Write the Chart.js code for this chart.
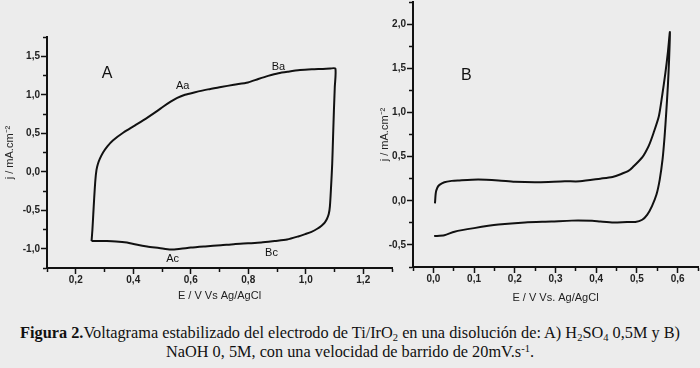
<!DOCTYPE html>
<html>
<head>
<meta charset="utf-8">
<script src="https://cdn.jsdelivr.net/npm/chart.js@4.4.1/dist/chart.umd.min.js"></script>
<style>
  html, body { margin: 0; padding: 0; background: #ececec; }
  #wrap { position: relative; width: 700px; height: 368px; background: #ececec; overflow: hidden; }
  #chartA { position: absolute; left: 0; top: 0; }
  #chartB { position: absolute; left: 372px; top: 0; }
  #caption {
    position: absolute; left: 0; top: 323px; width: 700px;
    text-align: center; color: #111;
    font-family: "Liberation Serif", "Times New Roman", serif;
    font-size: 16.3px; line-height: 19px;
  }
  #caption sub, #caption sup { font-size: 10.5px; line-height: 0; }
  #caption sub { vertical-align: -3px; }
  #caption sup { vertical-align: 5px; }
</style>
</head>
<body>
<div id="wrap">
  <canvas id="chartA" width="400" height="305"></canvas>
  <canvas id="chartB" width="328" height="305"></canvas>
  <div id="caption"><b>Figura 2.</b>Voltagrama estabilizado del electrodo de Ti/IrO<sub>2</sub> en una disolución de: A) H<sub>2</sub>SO<sub>4</sub> 0,5M y B)<br>NaOH 0, 5M, con una velocidad de barrido de 20mV.s<sup>-1</sup>.</div>
</div>
<script>
// Panel A: H2SO4 0,5M, potential (V) and current density (mA/cm2)
const potentialA = [0.255, 0.258, 0.261, 0.264, 0.268, 0.272, 0.277, 0.284, 0.295, 0.310, 0.330, 0.366, 0.405, 0.448, 0.480, 0.506, 0.530, 0.553, 0.580, 0.612, 0.660, 0.705, 0.750, 0.799, 0.835, 0.869, 0.905, 0.939, 0.980, 1.021, 1.060, 1.085, 1.103,
                    1.101, 1.098, 1.095, 1.092, 1.088, 1.084, 1.080, 1.074, 1.066, 1.055, 1.040, 1.020, 0.998, 0.974, 0.935, 0.892, 0.845, 0.799, 0.750, 0.705, 0.650, 0.600, 0.565, 0.530, 0.490, 0.448, 0.410, 0.378, 0.340, 0.308, 0.280, 0.255];
const currentA   = [-0.90, -0.75, -0.55, -0.35, -0.12, 0.02, 0.10, 0.17, 0.25, 0.33, 0.41, 0.51, 0.60, 0.70, 0.78, 0.85, 0.91, 0.96, 1.00, 1.03, 1.07, 1.10, 1.13, 1.16, 1.205, 1.245, 1.28, 1.30, 1.32, 1.33, 1.335, 1.34, 1.34,
                    1.10, 0.80, 0.45, 0.10, -0.20, -0.45, -0.55, -0.61, -0.66, -0.70, -0.74, -0.78, -0.81, -0.84, -0.88, -0.90, -0.92, -0.93, -0.94, -0.955, -0.97, -0.985, -1.00, -1.01, -0.99, -0.97, -0.945, -0.92, -0.905, -0.90, -0.90, -0.90];

// Panel B: NaOH 0,5M
const potentialB = [0.004, 0.006, 0.010, 0.015, 0.027, 0.045, 0.060, 0.110, 0.160, 0.200, 0.258, 0.323, 0.360, 0.410, 0.440, 0.460, 0.480, 0.492, 0.505, 0.513, 0.521, 0.529, 0.541, 0.554, 0.562, 0.570, 0.576, 0.581,
                    0.579, 0.576, 0.572, 0.568, 0.563, 0.556, 0.548, 0.537, 0.525, 0.513, 0.496, 0.476, 0.443, 0.410, 0.390, 0.340, 0.290, 0.225, 0.160, 0.100, 0.052, 0.027, 0.002];
const currentB   = [-0.03, 0.09, 0.15, 0.18, 0.21, 0.225, 0.23, 0.24, 0.23, 0.215, 0.21, 0.22, 0.22, 0.25, 0.27, 0.30, 0.34, 0.39, 0.45, 0.49, 0.55, 0.62, 0.77, 0.96, 1.19, 1.45, 1.68, 1.91,
                    1.60, 1.30, 1.00, 0.73, 0.47, 0.24, 0.07, -0.06, -0.16, -0.215, -0.24, -0.24, -0.245, -0.235, -0.227, -0.225, -0.235, -0.245, -0.27, -0.31, -0.35, -0.39, -0.40];

// text labels on the plots: [text, E, j]
const notesA = [['A', 0.309, 1.27], ['Aa', 0.572, 1.11], ['Ba', 0.905, 1.36], ['Ac', 0.537, -1.13], ['Bc', 0.881, -1.05]];
const notesB = [['B', 0.081, 1.42]];

Chart.defaults.font.family = '"Liberation Sans", Arial, sans-serif';
Chart.defaults.color = '#222';

const comma = v => v.toFixed(1).replace('.', ',');
const isMajor = (v, step) => Math.abs(v / step - Math.round(v / step)) < 1e-6;

// ticks: majors 5px out of the axis, minors shortened with a dash
function gridFor(step, vertical) {
    return {
        drawOnChartArea: false,
        drawTicks: true,
        tickLength: 6,
        tickColor: '#111',
        tickWidth: 1.5,
        tickBorderDash: c => isMajor(c.tick.value, step) ? [] : [3, 20],
        tickBorderDashOffset: c => (isMajor(c.tick.value, step) || !vertical) ? 0 : 21
    };
}

function axis(min, max, step, major, title, vertical, size, titlePad) {
    return {
        type: 'linear',
        position: vertical ? 'left' : 'bottom',
        min: min, max: max,
        border: { display: true, color: '#111', width: 2 },
        grid: gridFor(major, vertical),
        ticks: {
            stepSize: step,
            padding: vertical ? 1 : 0,
            autoSkip: false,
            maxRotation: 0,
            font: { size: 10, weight: 'bold' },
            color: '#222',
            callback: v => isMajor(v, major) ? comma(v) : ''
        },
        title: { display: true, text: title, font: { size: 11 }, color: '#222', padding: titlePad },
        afterFit: s => {
            if (vertical) { s.width = size; s.paddingTop = 0; s.paddingBottom = 0; }
            else { s.height = size; s.paddingLeft = 0; s.paddingRight = 0; }
        }
    };
}

const notesPlugin = {
    id: 'notes',
    afterDatasetsDraw(chart, args, opts) {
        const c = chart.ctx;
        const xs = chart.scales.x, ys = chart.scales.y;
        c.save();
        c.fillStyle = '#111';
        c.textAlign = 'center';
        c.textBaseline = 'middle';
        opts.items.forEach(n => {
            c.font = (n[0].length === 1 ? '16px' : '11px') + ' "Liberation Sans", Arial, sans-serif';
            c.fillText(n[0], xs.getPixelForValue(n[1]), ys.getPixelForValue(n[2]));
        });
        c.restore();
    }
};

function renderPanel(canvasId, xs, ys, notes, xAxis, yAxis, pad) {
    return new Chart(document.getElementById(canvasId), {
        type: 'scatter',
        data: {
            datasets: [{
                data: xs.map((e, i) => ({ x: e, y: ys[i] })),
                showLine: true,
                borderColor: '#111',
                borderWidth: 2,
                pointRadius: 0,
                tension: 0.25,
                fill: false
            }]
        },
        options: {
            responsive: false,
            animation: false,
            devicePixelRatio: 1,
            layout: { padding: pad },
            scales: { x: xAxis, y: yAxis },
            plugins: { legend: { display: false }, tooltip: { enabled: false }, notes: { items: notes } }
        },
        plugins: [notesPlugin]
    });
}

renderPanel('chartA', potentialA, currentA, notesA,
    axis(0.1, 1.3, 0.1, 0.2, 'E / V Vs Ag/AgCl', false, 37, { top: 0, bottom: 2 }),
    axis(-1.25, 1.75, 0.25, 0.5, 'j / mA.cm\u207B\u00B2', true, 47, { top: 3, bottom: 0 }),
    { top: 37, right: 8, left: 0, bottom: 0 });

renderPanel('chartB', potentialB, currentB, notesB,
    axis(-0.05, 0.65, 0.05, 0.1, 'E / V Vs. Ag/AgCl', false, 38, { top: 0, bottom: 0 }),
    axis(-0.75, 2.25, 0.25, 0.5, 'j / mA.cm\u207B\u00B2', true, 41, { top: 6, bottom: 0 }),
    { top: 2, right: 2, left: 0, bottom: 0 });
</script>
</body>
</html>
